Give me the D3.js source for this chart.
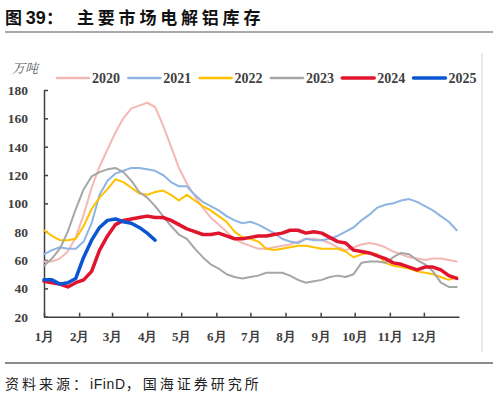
<!DOCTYPE html>
<html>
<head>
<meta charset="utf-8">
<script src="https://cdn.jsdelivr.net/npm/d3@7"></script>
<style>
  body { margin: 0; background: #fff; }
  svg { display: block; }
</style>
</head>
<body>
<svg></svg>
<script>
// weekly readings (万吨), week 0 = 1月1日
const years = ['2020', '2021', '2022', '2023', '2024', '2025'];

const v2020 = [59, 59, 61, 66, 76, 92, 111, 126, 138, 150, 160, 167, 169, 171, 168, 155, 140, 125, 114, 105,
  97, 90, 85, 80, 75, 72, 70, 68, 68, 69, 70, 71, 73, 75, 75, 74, 72, 69, 67, 69,
  71, 72, 71, 69, 66, 64, 62, 61, 60, 61, 61, 60, 59];
const v2021 = [64, 67, 69, 68, 68, 73, 86, 106, 116, 121, 123, 125, 125, 124, 123, 120, 115, 112, 112, 106,
  101, 98, 95, 91, 88, 86, 87, 85, 82, 79, 75, 73, 72, 75, 74, 74, 75, 77, 80, 83,
  88, 92, 97, 99, 100, 102, 103, 101, 98, 95, 91, 87, 81];
const v2022 = [81, 77, 74, 74, 75, 84, 96, 104, 110, 117, 115, 111, 107, 106, 108, 109, 106, 102, 106, 102,
  98, 95, 91, 87, 80, 76, 75, 73, 68, 67, 68, 69, 70, 70, 69, 68, 68, 68, 66, 62,
  64, 65, 64, 58, 56, 55, 54, 52, 51, 50, 48, 46, 48];
const v2023 = [56, 61, 68, 80, 96, 110, 119, 122, 124, 125, 122, 116, 108, 104, 98, 91, 84, 78, 75, 68,
  62, 57, 54, 50, 48, 47, 48, 49, 51, 51, 51, 49, 46, 44, 45, 46, 48, 49, 48, 50,
  58, 59, 59, 58, 62, 65, 64, 60, 57, 52, 44, 41, 41];
const v2024 = [45, 44, 43, 41, 44, 46, 52, 67, 77, 85, 88, 89, 90, 91, 90, 90, 88, 85, 82, 80,
  78, 78, 79, 77, 75, 75, 76, 77, 77, 78, 79, 81, 81, 79, 80, 79, 76, 73, 72, 67,
  66, 65, 63, 61, 58, 57, 55, 53, 55, 55, 53, 49, 47];
const v2025 = [46, 46, 43, 44, 47, 62, 74, 83, 88, 89, 87, 86, 83, 79, 74];

const seriesValues = [v2020, v2021, v2022, v2023, v2024, v2025];
const colors = ['#f4b9b5', '#8db4e2', '#ffc000', '#a6a6a6', '#e0142d', '#0a56d2'];
const widths = [2, 2, 2, 2, 3.5, 3.5];
const yTicks = [20, 40, 60, 80, 100, 120, 140, 160, 180];

const svg = d3.select('svg')
  .attr('width', 498)
  .attr('height', 406);

// title + frame lines
svg.append('text')
  .attr('x', 5).attr('y', 24)
  .attr('font-family', '"Noto Sans CJK SC", "Noto Sans", sans-serif')
  .attr('font-weight', 'bold')
  .attr('font-size', 17)
  .attr('fill', '#111')
  .call(t => {
    t.append('tspan').text('图 ');
    t.append('tspan').attr('font-family', '"Liberation Sans", Arial, sans-serif').attr('font-size', 18).text('39');
    t.append('tspan').text('：');
    t.append('tspan').attr('x', 77).attr('letter-spacing', 3.8).text('主要市场电解铝库存');
  });

svg.append('line')
  .attr('x1', 5).attr('x2', 493).attr('y1', 32).attr('y2', 32)
  .attr('stroke', '#555').attr('stroke-width', 1.2);

svg.append('line')
  .attr('x1', 482).attr('x2', 482).attr('y1', 53).attr('y2', 352)
  .attr('stroke', '#d4d4d4').attr('stroke-width', 1);

svg.append('line')
  .attr('x1', 5).attr('x2', 493).attr('y1', 363).attr('y2', 363)
  .attr('stroke', '#666').attr('stroke-width', 1.5);

svg.append('text')
  .attr('x', 5).attr('y', 389)
  .attr('font-family', '"Noto Sans CJK SC", sans-serif')
  .attr('font-size', 14)
  .attr('letter-spacing', 3)
  .attr('fill', '#222')
  .call(t => {
    t.append('tspan').text('资料来源：');
    t.append('tspan').attr('font-family', '"Liberation Sans", Arial, sans-serif').attr('letter-spacing', 0.6).text('iFinD');
    t.append('tspan').text('，国海证券研究所');
  });

// scales
const start = new Date(2024, 0, 1);
const end = new Date(2025, 0, 1);
const x = d3.scaleTime()
  .domain([start, end])
  .range([44, 459]);
const y = d3.scaleLinear()
  .domain([20, 180])
  .range([316.7, 90]);

const weekDate = i => d3.timeDay.offset(start, i * 7);

// axes
const serif = '"Liberation Serif", "Times New Roman", serif';

const xAxis = svg.append('g')
  .attr('transform', `translate(0, ${y(20)})`)
  .call(d3.axisBottom(x)
    .tickValues(d3.timeMonth.range(start, end))
    .tickFormat(d => (d.getMonth() + 1) + '月')
    .tickSize(-4)
    .tickSizeOuter(0)
    .tickPadding(15));
xAxis.selectAll('text')
  .attr('font-family', serif)
  .attr('font-weight', 'bold')
  .attr('font-size', 13)
  .attr('fill', '#404040');

const yAxis = svg.append('g')
  .attr('transform', `translate(${x(start)}, 0)`)
  .call(d3.axisLeft(y)
    .tickValues(yTicks)
    .tickSize(-4)
    .tickSizeOuter(0)
    .tickPadding(16));
yAxis.selectAll('text')
  .attr('font-family', serif)
  .attr('font-weight', 'bold')
  .attr('font-size', 13.5)
  .attr('fill', '#404040');

svg.selectAll('.domain, .tick line')
  .attr('stroke', '#404040')
  .attr('stroke-width', 1.5);

svg.append('text')
  .attr('x', 12).attr('y', 73)
  .attr('font-family', '"Noto Serif CJK SC", "Noto Sans CJK SC", serif')
  .attr('font-size', 13)
  .attr('font-style', 'italic')
  .attr('fill', '#595959')
  .text('万吨');

// lines
const line = d3.line()
  .x((d, i) => x(weekDate(i)))
  .y(d => y(d));

svg.append('g')
  .selectAll('path')
  .data(seriesValues)
  .join('path')
    .attr('d', line)
    .attr('fill', 'none')
    .attr('stroke', (d, i) => colors[i])
    .attr('stroke-width', (d, i) => widths[i])
    .attr('stroke-linejoin', 'round')
    .attr('stroke-linecap', 'round');

// legend
const legend = svg.append('g')
  .selectAll('g')
  .data(years)
  .join('g')
    .attr('transform', (d, i) => `translate(${57 + i * 71.3}, 78)`);

legend.append('line')
  .attr('x1', 0).attr('x2', 32)
  .attr('stroke', (d, i) => colors[i])
  .attr('stroke-width', (d, i) => i > 3 ? 3.5 : 2.5)
  .attr('stroke-linecap', 'round');

legend.append('text')
  .attr('x', 35).attr('y', 5)
  .attr('font-family', serif)
  .attr('font-weight', 'bold')
  .attr('font-size', 14)
  .attr('fill', '#404040')
  .text(d => d);
</script>
</body>
</html>
